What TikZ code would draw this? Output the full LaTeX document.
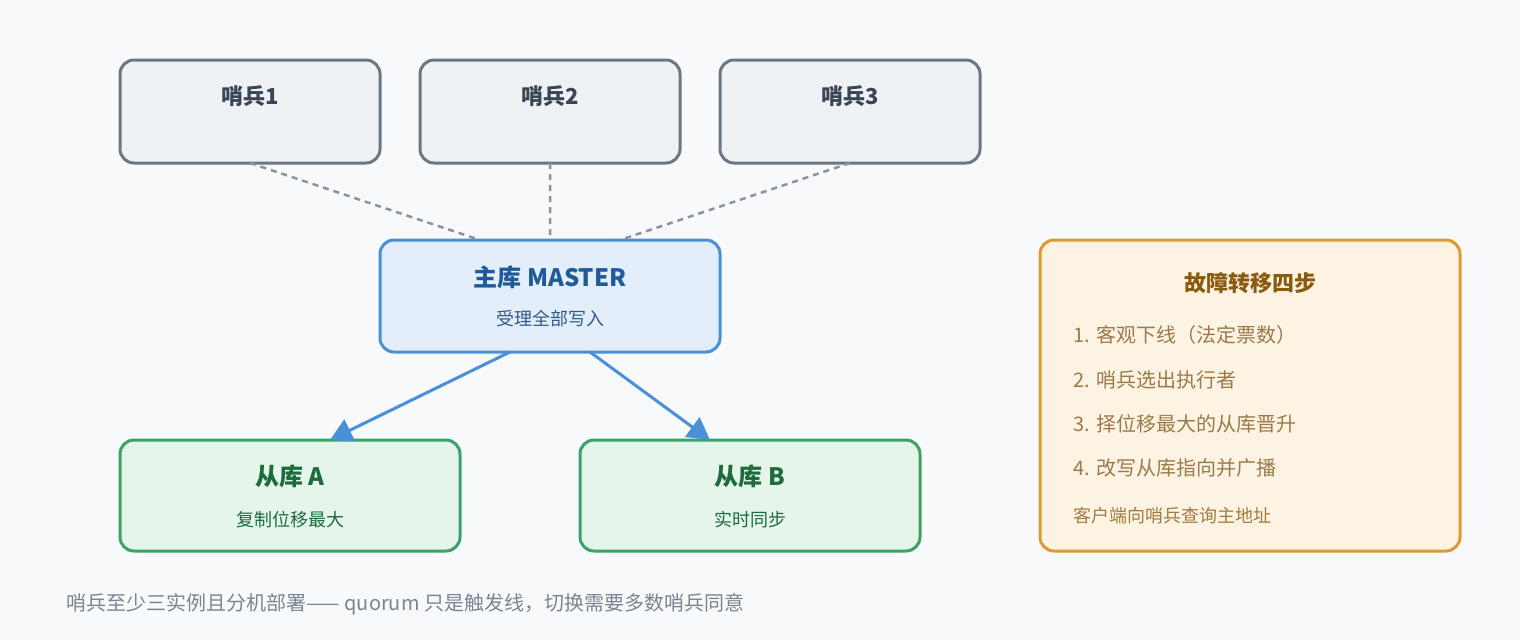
\documentclass[tikz,border=0pt]{standalone}
\usepackage{fontspec}
\setmainfont{Noto Sans CJK SC}
\usetikzlibrary{arrows.meta}
\definecolor{bg}{HTML}{F7F9FB}
\definecolor{sf}{HTML}{EEF2F5}\definecolor{ss}{HTML}{6B7785}\definecolor{st}{HTML}{3A4556}
\definecolor{mf}{HTML}{E3EEFA}\definecolor{ms}{HTML}{4A90D9}\definecolor{mt}{HTML}{1F5A99}\definecolor{mt2}{HTML}{2F5B8A}
\definecolor{gf}{HTML}{E5F5EA}\definecolor{gs}{HTML}{3AA36A}\definecolor{gt}{HTML}{1E6B3E}
\definecolor{of}{HTML}{FDF3E2}\definecolor{os}{HTML}{DC9A35}\definecolor{ot}{HTML}{8A5A10}\definecolor{oi}{HTML}{9A7A4A}
\definecolor{dl}{HTML}{8A939E}\definecolor{ft}{HTML}{7A8592}
\begin{document}
\begin{tikzpicture}[x=1pt,y=-1pt,
 box/.style={rounded corners=14pt,line width=3pt},
 t/.style={font=\fontsize{22}{26}\selectfont\bfseries,anchor=center},
 s/.style={font=\fontsize{18}{22}\selectfont,anchor=center},
 it/.style={font=\fontsize{20}{24}\selectfont,anchor=west,text=oi}]
\fill[bg] (0,0) rectangle (1520,640);
\useasboundingbox (0,0) rectangle (1520,640);
\draw[box,fill=sf,draw=ss] (120,60) rectangle (380,163) coordinate (s1c);
\draw[box,fill=sf,draw=ss] (420,60) rectangle (680,163);
\draw[box,fill=sf,draw=ss] (720,60) rectangle (980,163);
\node[t,text=st] (s1) at (250,96) {哨兵1};
\node[t,text=st] (s2) at (550,96) {哨兵2};
\node[t,text=st] (s3) at (850,96) {哨兵3};
\draw[box,fill=mf,draw=ms] (380,240) rectangle (720,352);
\node[t,text=mt,font=\fontsize{24}{28}\selectfont\bfseries] (m) at (550,277) {主库 MASTER};
\node[s,text=mt2] (m2) at (550,319) {受理全部写入};
\draw[box,fill=gf,draw=gs] (120,440) rectangle (460,551);
\node[t,text=gt,font=\fontsize{24}{28}\selectfont\bfseries] (a) at (290,476) {从库 A};
\node[s,text=gt] (a2) at (290,520) {复制位移最大};
\draw[box,fill=gf,draw=gs] (580,440) rectangle (920,551);
\node[t,text=gt,font=\fontsize{24}{28}\selectfont\bfseries] (b) at (750,476) {从库 B};
\node[s,text=gt] (b2) at (750,520) {实时同步};
\coordinate (d1a) at (250,163); \coordinate (d1b) at (480,240);
\coordinate (d2a) at (550,163); \coordinate (d2b) at (550,240);
\coordinate (d3a) at (850,163); \coordinate (d3b) at (620,240);
\draw[dl,line width=2.5pt,dash pattern=on 6pt off 5pt] (d1a)--(d1b) (d2a)--(d2b) (d3a)--(d3b);
\coordinate (p1) at (510,352); \coordinate (q1) at (330,440);
\coordinate (p2) at (590,352); \coordinate (q2) at (710,440);
\draw[ms,line width=3pt,-{Triangle[length=22pt,width=24pt]}] (p1)--(q1);
\draw[ms,line width=3pt,-{Triangle[length=22pt,width=24pt]}] (p2)--(q2);
\draw[box,fill=of,draw=os] (1040,240) rectangle (1460,551);
\node[t,text=ot] (o) at (1250,283) {故障转移四步};
\node[it] (i1) at (1070,335) {1. 客观下线（法定票数）};
\node[it] (i2) at (1070,380) {2. 哨兵选出执行者};
\node[it] (i3) at (1070,424) {3. 择位移最大的从库晋升};
\node[it] (i4) at (1070,468) {4. 改写从库指向并广播};
\node[it,text=ot!80,font=\fontsize{18}{22}\selectfont] (i5) at (1070,516) {客户端向哨兵查询主地址};
\node[anchor=west,text=ft,font=\fontsize{20}{24}\selectfont] (f) at (63,604) {哨兵至少三实例且分机部署—— quorum 只是触发线，切换需要多数哨兵同意};
\end{tikzpicture}
\end{document}
